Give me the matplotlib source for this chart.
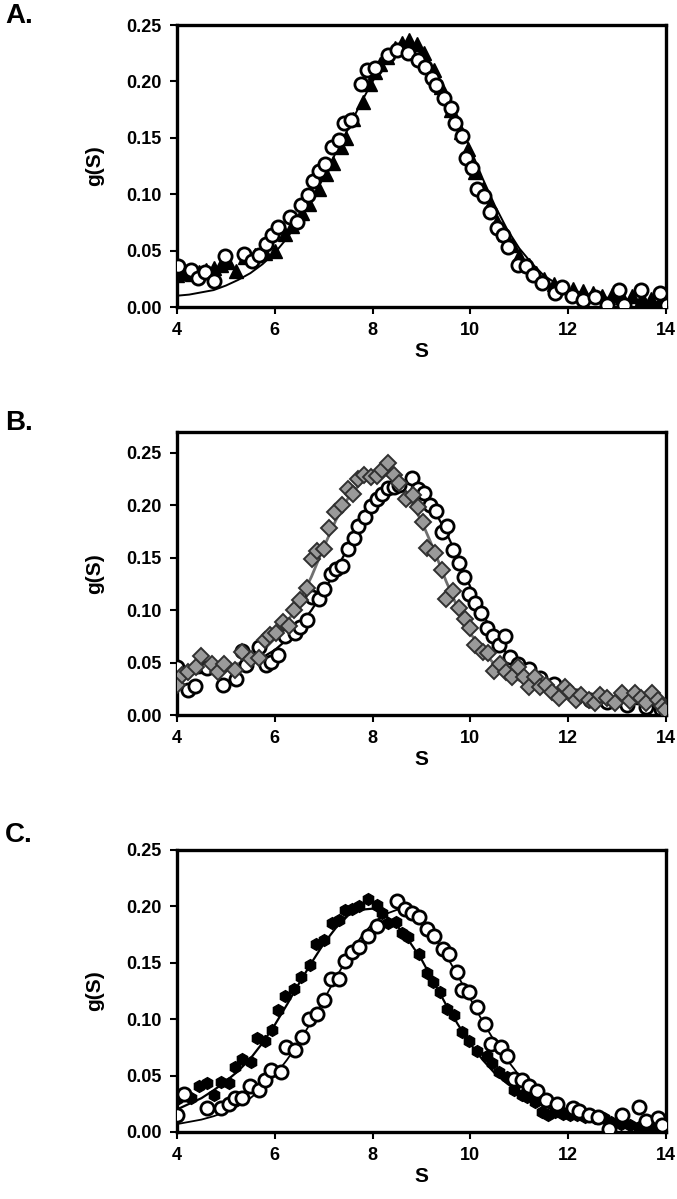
import matplotlib
matplotlib.use('Agg')
import matplotlib.pyplot as plt

plt.rcParams['font.family'] = ['Liberation Sans', 'DejaVu Sans']
plt.rcParams['font.weight'] = 'bold'

# ---- panel A ----
aCircX = [4.02, 4.28, 4.42, 4.57, 4.76, 4.99, 5.37, 5.53, 5.68, 5.81, 5.94, 6.07, 6.31, 6.46, 6.54, 6.67, 6.78, 6.90,
          7.03, 7.16, 7.32, 7.41, 7.55, 7.77, 7.89, 8.05, 8.31, 8.50, 8.72, 8.92, 9.07, 9.22, 9.30, 9.45, 9.60, 9.68,
          9.83, 9.91, 10.04, 10.14, 10.27, 10.40, 10.55, 10.67, 10.76, 10.97, 11.13, 11.28, 11.47, 11.72, 11.87,
          12.08, 12.31, 12.54, 12.80, 13.03, 13.15, 13.49, 13.87, 14.02]
aCircY = [0.036, 0.033, 0.026, 0.031, 0.023, 0.045, 0.047, 0.041, 0.046, 0.056, 0.064, 0.071, 0.080, 0.075, 0.090,
          0.099, 0.112, 0.121, 0.127, 0.142, 0.148, 0.163, 0.166, 0.198, 0.210, 0.212, 0.223, 0.228, 0.225, 0.219,
          0.213, 0.203, 0.197, 0.185, 0.176, 0.163, 0.152, 0.132, 0.123, 0.105, 0.098, 0.084, 0.070, 0.064, 0.053,
          0.037, 0.036, 0.028, 0.021, 0.012, 0.018, 0.010, 0.006, 0.009, 0.0015, 0.015, 0.002, 0.015, 0.012, 0.0015]

aTriX = [4.0, 4.15, 4.3, 4.45, 4.6, 4.75, 4.9, 5.05, 5.2, 5.4, 5.6, 5.8, 6.0, 6.2, 6.35, 6.55, 6.7, 6.9, 7.05, 7.2,
         7.35, 7.45, 7.6, 7.8, 7.95, 8.05, 8.15, 8.3, 8.45, 8.6, 8.75, 8.9, 9.05, 9.25, 9.4, 9.6, 9.8, 9.95, 10.1,
         10.25, 10.4, 10.55, 10.7, 10.85, 11.0, 11.2, 11.35, 11.5, 11.7, 11.9, 12.1, 12.3, 12.5, 12.7, 12.9, 13.1,
         13.3, 13.5, 13.7, 13.9]
aTriY = [0.028, 0.030, 0.029, 0.031, 0.033, 0.035, 0.037, 0.040, 0.032, 0.044, 0.046, 0.048, 0.050, 0.065, 0.072,
         0.083, 0.091, 0.105, 0.118, 0.128, 0.142, 0.150, 0.167, 0.182, 0.198, 0.208, 0.215, 0.222, 0.230, 0.234,
         0.237, 0.233, 0.225, 0.210, 0.195, 0.175, 0.155, 0.140, 0.120, 0.105, 0.090, 0.075, 0.065, 0.055, 0.045,
         0.037, 0.030, 0.025, 0.020, 0.018, 0.016, 0.014, 0.012, 0.010, 0.011, 0.009, 0.010, 0.008, 0.007, 0.006]

fitX = [4.0, 4.25, 4.5, 4.75, 5.0, 5.25, 5.5, 5.75, 6.0, 6.25, 6.5, 6.75, 7.0, 7.25, 7.5, 7.75, 8.0, 8.25, 8.5,
        8.75, 9.0, 9.25, 9.5, 9.75, 10.0, 10.25, 10.5, 10.75, 11.0, 11.25, 11.5, 11.75, 12.0, 12.5, 13.0, 13.5, 14.0]
aFitY = [0.010, 0.011, 0.013, 0.015, 0.019, 0.024, 0.030, 0.038, 0.048, 0.061, 0.077, 0.095, 0.115, 0.137, 0.158,
         0.180, 0.200, 0.217, 0.228, 0.231, 0.225, 0.210, 0.190, 0.166, 0.140, 0.114, 0.090, 0.069, 0.052, 0.039,
         0.028, 0.021, 0.016, 0.010, 0.007, 0.005, 0.004]

# ---- panel B ----
bDiaX = [4.0, 4.11, 4.23, 4.38, 4.50, 4.71, 4.84, 4.97, 5.18, 5.32, 5.52, 5.68, 5.79, 5.91, 6.02, 6.16, 6.29, 6.40,
         6.52, 6.65, 6.77, 6.86, 7.01, 7.11, 7.24, 7.38, 7.49, 7.60, 7.71, 7.83, 7.96, 8.08, 8.19, 8.31, 8.44, 8.55,
         8.69, 8.82, 8.93, 9.03, 9.11, 9.27, 9.41, 9.51, 9.64, 9.77, 9.89, 10.00, 10.10, 10.25, 10.37, 10.48, 10.61,
         10.73, 10.86, 10.97, 11.09, 11.20, 11.32, 11.43, 11.55, 11.66, 11.81, 11.93, 12.04, 12.16, 12.27, 12.42,
         12.54, 12.65, 12.80, 12.96, 13.11, 13.26, 13.37, 13.49, 13.60, 13.72, 13.83, 13.91, 13.98]
bDiaY = [0.029, 0.038, 0.041, 0.046, 0.056, 0.049, 0.041, 0.049, 0.043, 0.060, 0.053, 0.054, 0.072, 0.076, 0.078,
         0.089, 0.085, 0.100, 0.110, 0.121, 0.149, 0.156, 0.158, 0.178, 0.194, 0.200, 0.216, 0.211, 0.225, 0.229,
         0.227, 0.228, 0.234, 0.240, 0.229, 0.221, 0.206, 0.210, 0.198, 0.184, 0.159, 0.155, 0.138, 0.111, 0.118,
         0.102, 0.092, 0.083, 0.067, 0.060, 0.059, 0.042, 0.049, 0.041, 0.036, 0.046, 0.036, 0.027, 0.036, 0.027,
         0.029, 0.022, 0.016, 0.027, 0.022, 0.014, 0.019, 0.014, 0.011, 0.019, 0.016, 0.011, 0.021, 0.013, 0.021,
         0.016, 0.011, 0.021, 0.014, 0.009, 0.005]

bCircX = [4.0, 4.23, 4.36, 4.62, 4.95, 5.20, 5.33, 5.41, 5.68, 5.81, 5.93, 6.06, 6.21, 6.42, 6.52, 6.65, 6.77, 6.90,
          7.01, 7.14, 7.25, 7.38, 7.50, 7.61, 7.71, 7.85, 7.96, 8.08, 8.19, 8.31, 8.44, 8.55, 8.80, 8.92, 9.05, 9.18,
          9.30, 9.41, 9.53, 9.64, 9.77, 9.87, 9.98, 10.10, 10.21, 10.33, 10.46, 10.59, 10.71, 10.82, 10.97, 11.19,
          11.43, 11.70, 11.89, 12.15, 12.45, 12.80, 13.20, 13.60, 13.90, 14.0]
bCircY = [0.046, 0.024, 0.028, 0.045, 0.029, 0.034, 0.061, 0.048, 0.065, 0.048, 0.051, 0.057, 0.075, 0.078, 0.084,
          0.091, 0.113, 0.111, 0.120, 0.135, 0.139, 0.142, 0.158, 0.169, 0.180, 0.189, 0.199, 0.206, 0.211, 0.217,
          0.218, 0.219, 0.226, 0.216, 0.212, 0.200, 0.195, 0.175, 0.180, 0.157, 0.145, 0.132, 0.115, 0.107, 0.097,
          0.083, 0.075, 0.067, 0.075, 0.055, 0.049, 0.044, 0.035, 0.030, 0.022, 0.018, 0.014, 0.012, 0.010, 0.008,
          0.006, 0.002]

bDiaFitY = [0.035, 0.038, 0.042, 0.044, 0.046, 0.049, 0.053, 0.061, 0.073, 0.088, 0.108, 0.132, 0.160, 0.186,
            0.207, 0.221, 0.228, 0.230, 0.222, 0.206, 0.185, 0.158, 0.128, 0.101, 0.078, 0.061, 0.048, 0.039,
            0.033, 0.028, 0.024, 0.021, 0.018, 0.015, 0.014, 0.013, 0.010]
bCircFitY = [0.038, 0.039, 0.040, 0.041, 0.042, 0.045, 0.050, 0.055, 0.062, 0.072, 0.085, 0.100, 0.118, 0.138,
             0.160, 0.181, 0.200, 0.213, 0.220, 0.221, 0.212, 0.196, 0.175, 0.149, 0.122, 0.097, 0.075, 0.058,
             0.046, 0.037, 0.030, 0.024, 0.020, 0.015, 0.012, 0.010, 0.006]

# ---- panel C ----
cFillX = [4.0, 4.11, 4.28, 4.46, 4.61, 4.76, 4.91, 5.07, 5.18, 5.33, 5.52, 5.64, 5.79, 5.94, 6.07, 6.21, 6.40, 6.54,
          6.71, 6.84, 7.01, 7.16, 7.32, 7.44, 7.58, 7.73, 7.91, 8.08, 8.19, 8.31, 8.47, 8.60, 8.73, 8.95, 9.11, 9.24,
          9.37, 9.53, 9.66, 9.83, 9.98, 10.14, 10.33, 10.44, 10.59, 10.74, 10.90, 11.05, 11.16, 11.32, 11.47, 11.58,
          11.74, 11.89, 12.04, 12.19, 12.34, 12.54, 12.73, 12.88, 13.07, 13.26, 13.45, 13.64, 13.83, 13.98]
cFillY = [0.029, 0.033, 0.030, 0.041, 0.043, 0.033, 0.044, 0.043, 0.058, 0.065, 0.062, 0.083, 0.081, 0.090, 0.108,
          0.121, 0.127, 0.137, 0.148, 0.167, 0.170, 0.185, 0.188, 0.197, 0.198, 0.200, 0.207, 0.201, 0.194, 0.185,
          0.186, 0.176, 0.173, 0.158, 0.141, 0.133, 0.124, 0.109, 0.104, 0.089, 0.081, 0.072, 0.067, 0.061, 0.053,
          0.049, 0.037, 0.033, 0.031, 0.027, 0.018, 0.015, 0.018, 0.016, 0.015, 0.015, 0.013, 0.012, 0.012, 0.009,
          0.007, 0.006, 0.004, 0.003, 0.004, 0.004]

cCircX = [4.0, 4.15, 4.61, 4.91, 5.07, 5.18, 5.33, 5.49, 5.68, 5.79, 5.93, 6.12, 6.23, 6.42, 6.55, 6.69, 6.87, 7.01,
          7.14, 7.32, 7.44, 7.58, 7.73, 7.91, 8.08, 8.50, 8.66, 8.81, 8.95, 9.11, 9.26, 9.44, 9.57, 9.72, 9.83, 9.98,
          10.14, 10.29, 10.43, 10.62, 10.75, 10.90, 11.05, 11.20, 11.36, 11.55, 11.78, 12.09, 12.23, 12.42, 12.61,
          12.84, 13.11, 13.45, 13.60, 13.83, 13.91]
cCircY = [0.015, 0.034, 0.021, 0.021, 0.025, 0.030, 0.030, 0.041, 0.037, 0.046, 0.055, 0.053, 0.075, 0.073, 0.084,
          0.100, 0.105, 0.117, 0.136, 0.136, 0.152, 0.160, 0.164, 0.174, 0.183, 0.205, 0.198, 0.194, 0.191, 0.180,
          0.174, 0.162, 0.158, 0.142, 0.126, 0.124, 0.111, 0.096, 0.078, 0.075, 0.067, 0.047, 0.046, 0.041, 0.036,
          0.028, 0.025, 0.021, 0.019, 0.015, 0.013, 0.003, 0.015, 0.022, 0.010, 0.012, 0.006]

cFillFitY = [0.020, 0.025, 0.030, 0.037, 0.045, 0.054, 0.065, 0.079, 0.095, 0.113, 0.132, 0.150, 0.167, 0.181,
             0.192, 0.197, 0.198, 0.192, 0.183, 0.169, 0.153, 0.133, 0.113, 0.095, 0.078, 0.064, 0.052, 0.043,
             0.035, 0.028, 0.023, 0.019, 0.016, 0.012, 0.008, 0.006, 0.004]
cCircFitY = [0.007, 0.009, 0.011, 0.014, 0.018, 0.023, 0.030, 0.039, 0.050, 0.064, 0.080, 0.098, 0.117, 0.137,
             0.155, 0.172, 0.185, 0.193, 0.197, 0.195, 0.187, 0.174, 0.157, 0.138, 0.118, 0.098, 0.080, 0.064,
             0.050, 0.039, 0.030, 0.024, 0.020, 0.014, 0.010, 0.007, 0.005]

xTicks = [4, 6, 8, 10, 12, 14]
yTicks = [0.00, 0.05, 0.10, 0.15, 0.20, 0.25]


fig = plt.figure(figsize=(6.77, 11.99), dpi=100)

left, width = 177 / 677, 489 / 677
axA = fig.add_axes([left, 1 - 307 / 1199, width, 282 / 1199])
axB = fig.add_axes([left, 1 - 715 / 1199, width, 283 / 1199])
axC = fig.add_axes([left, 1 - 1132 / 1199, width, 282 / 1199])

openKw = dict(linestyle='none', marker='o', markersize=9.5, markerfacecolor='white',
              markeredgecolor='black', markeredgewidth=2.0)

# A
axA.plot(fitX, aFitY, color='black', linewidth=1.4, zorder=2)
axA.plot(aTriX, aTriY, linestyle='none', marker='^', markersize=9.5, color='black', zorder=3)
axA.plot(aCircX, aCircY, zorder=4, **openKw)

# B
axB.plot(fitX, bDiaFitY, color='#707070', linewidth=2, zorder=2)
axB.plot(fitX, bCircFitY, color='black', linewidth=1.6, zorder=2)
axB.plot(bCircX, bCircY, zorder=3, **openKw)
axB.plot(bDiaX, bDiaY, linestyle='none', marker='D', markersize=8, markerfacecolor='#9a9a9a',
         markeredgecolor='#303030', markeredgewidth=1.4, zorder=4)

# C
axC.plot(fitX, cFillFitY, color='black', linewidth=1.6, zorder=2)
axC.plot(fitX, cCircFitY, color='black', linewidth=1.3, zorder=2)
axC.plot(cFillX, cFillY, linestyle='none', marker='h', markersize=8.5, color='black', zorder=3)
axC.plot(cCircX, cCircY, zorder=4, **openKw)

for ax, ytop, letter, ly in [(axA, 0.25, 'A.', 16), (axB, 0.27, 'B.', 423), (axC, 0.25, 'C.', 835)]:
    ax.set_xlim(4, 14)
    ax.set_ylim(0, ytop)
    ax.set_xticks(xTicks)
    ax.set_yticks(yTicks)
    ax.set_yticklabels(['%.2f' % v for v in yTicks])
    ax.tick_params(direction='out', length=5, width=1.5, labelsize=13, pad=6)
    for sp in ax.spines.values():
        sp.set_linewidth(2.4)
    for lab in ax.get_xticklabels() + ax.get_yticklabels():
        lab.set_fontweight('bold')
    ax.set_xlabel('S', fontsize=15, fontweight='bold', labelpad=2)
    ax.set_ylabel('g(S)', fontsize=15, fontweight='bold', labelpad=16)
    fig.text(5 / 677, 1 - ly / 1199, letter, fontsize=20, fontweight='bold', va='center', ha='left')

fig.savefig('out.png', dpi=100)
